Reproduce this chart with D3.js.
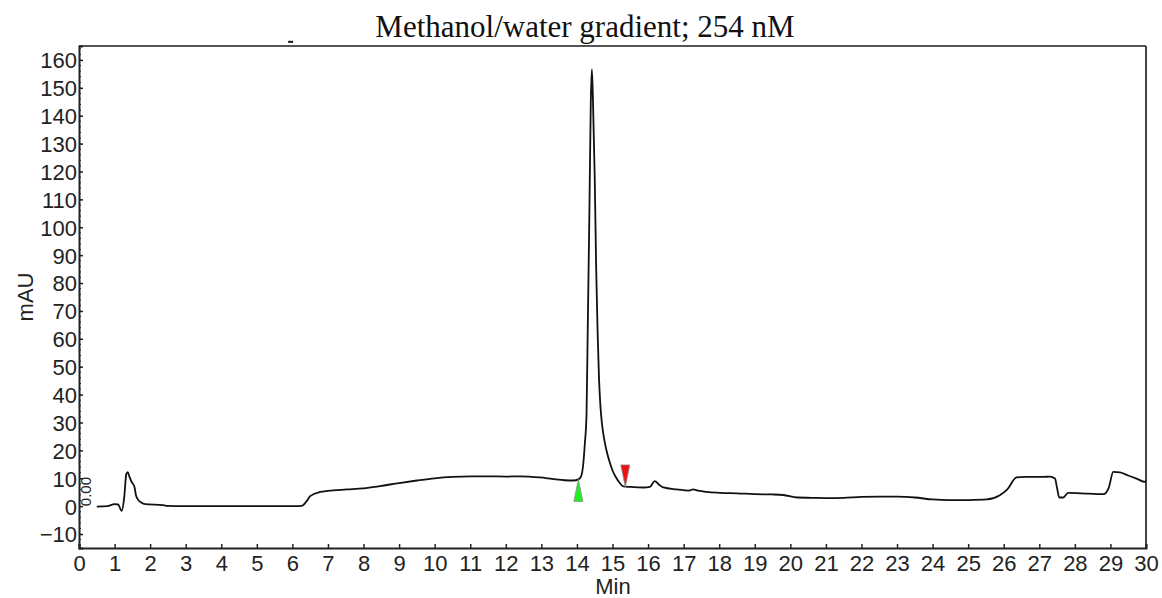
<!DOCTYPE html>
<html>
<head>
<meta charset="utf-8">
<script src="https://cdn.jsdelivr.net/npm/d3@7"></script>
<style>
  html, body { margin: 0; padding: 0; background: #fff; }
  svg { display: block; }
</style>
</head>
<body>
<svg id="chart" width="1162" height="598"></svg>
<script>
// ---- Data ----
const title = "Methanol/water gradient; 254 nM";
const xLabel = "Min";
const yLabel = "mAU";
const xTicks = d3.range(0, 31, 1);
const yTicks = d3.range(-10, 161, 10);

// retention time (min)
const time = [
  0.50, 0.80, 1.00, 1.10, 1.20, 1.27, 1.33, 1.37, 1.42, 1.48, 1.56, 1.60, 1.65, 1.75, 1.86,
  2.36, 2.45, 3.0, 4.0, 5.0, 6.0, 6.26, 6.40, 6.50, 6.78, 7.0, 7.53, 8.0, 8.46,
  9.0, 9.5, 10.0, 10.5, 11.0, 11.5, 12.0, 12.4, 12.96, 13.3, 13.66, 13.9, 14.04,
  14.12, 14.18, 14.22, 14.27, 14.30, 14.35, 14.39, 14.42, 14.45, 14.50, 14.54, 14.58, 14.62,
  14.66, 14.70, 14.76, 14.84, 14.92, 15.00, 15.10, 15.20, 15.30, 15.50, 15.87, 16.05, 16.19,
  16.30, 16.43, 16.80, 17.15, 17.27,
  17.40, 18.02, 18.5, 19.0, 19.5, 19.8, 20.2, 20.6, 21.0, 21.5, 22.0, 22.5, 23.0, 23.5,
  24.0, 24.49, 25.0, 25.52, 25.89, 26.10, 26.36, 26.60, 27.11, 27.30, 27.44, 27.50,
  27.56, 27.67, 27.81, 28.2, 28.8, 28.95, 29.08, 29.27, 29.5, 29.75, 29.97, 30.0
];
// absorbance (mAU)
const absorbance = [
  -0.2, 0.0, 0.7, 0.6, -1.7, 3.0, 11.5, 12.2, 10.5, 8.7, 6.9, 4.0, 2.5, 1.3, 0.7,
  0.4, 0.1, 0.0, 0.0, 0.0, 0.0, 0.1, 1.8, 3.6, 5.1, 5.5, 6.0, 6.4, 7.2,
  8.3, 9.2, 10.0, 10.5, 10.7, 10.7, 10.6, 10.7, 10.3, 9.8, 9.3, 9.2, 9.6,
  10.8, 15.4, 22.0, 33.0, 60.0, 105.0, 145.0, 156.6, 146.0, 118.0, 86.0, 63.0, 46.0,
  36.0, 30.0, 24.5, 19.5, 15.8, 12.8, 10.3, 8.4, 7.1, 6.9, 6.7, 6.9, 9.0,
  7.8, 6.7, 6.0, 5.6, 6.0,
  5.6, 4.8, 4.6, 4.3, 4.2, 4.0, 3.1, 3.0, 2.9, 3.0, 3.3, 3.4, 3.4, 3.1,
  2.4, 2.15, 2.2, 2.4, 3.9, 6.0, 10.3, 10.5, 10.5, 10.6, 9.9, 6.5,
  3.1, 3.1, 4.8, 4.6, 4.3, 6.5, 12.3, 12.1, 11.0, 9.8, 8.7, 9.2
];

// peak integration markers
const peakStart = [14.04];
const peakEnd = [15.36];
const baselineAt = [9.6, 6.9];

// ---- Layout ----
const svg = d3.select("#chart");
const margin = { left: 79, right: 16, top: 46, bottom: 50 };
const W = 1162, H = 598;
const x = d3.scaleLinear().domain([0, 30]).range([margin.left, W - margin.right]);
const y = d3.scaleLinear().domain([-15, 165]).range([H - margin.bottom, margin.top]);

const fontSans = "'Liberation Sans', Arial, Helvetica, sans-serif";

// frame (top and right)
svg.append("line").attr("x1", x(0)).attr("x2", x(30)).attr("y1", y(165)).attr("y2", y(165))
  .attr("stroke", "#555").attr("stroke-width", 2);
svg.append("line").attr("x1", x(30)).attr("x2", x(30)).attr("y1", y(165)).attr("y2", y(-15))
  .attr("stroke", "#444").attr("stroke-width", 2);
// small stray mark above the top border
svg.append("line").attr("x1", x(5.88)).attr("x2", x(6.02)).attr("y1", y(166.5)).attr("y2", y(166.5))
  .attr("stroke", "#111").attr("stroke-width", 2);

// minor y ticks (every 2 mAU)
svg.append("g").selectAll("line").data(d3.range(-14, 165, 2)).join("line")
  .attr("x1", x(0)).attr("x2", x(0) + 2)
  .attr("y1", d => y(d)).attr("y2", d => y(d))
  .attr("stroke", "#222").attr("stroke-width", 1);

// y axis
const yAxis = d3.axisLeft(y).tickValues(yTicks).tickSize(-4).tickPadding(2).tickFormat(d3.format("d"));
const gy = svg.append("g").attr("transform", `translate(${x(0)},0)`).call(yAxis);
gy.select(".domain").attr("stroke", "#222").attr("stroke-width", 2);
gy.selectAll(".tick line").attr("stroke", "#222").attr("stroke-width", 1.5);
gy.selectAll(".tick text").attr("font-family", fontSans).attr("font-size", 22).attr("fill", "#222")
  .attr("dy", "0.36em");

// x axis
const xAxis = d3.axisBottom(x).tickValues(xTicks).tickSize(-4).tickPadding(7).tickFormat(d3.format("d"));
const gx = svg.append("g").attr("transform", `translate(0,${y(-15)})`).call(xAxis);
gx.select(".domain").attr("stroke", "#222").attr("stroke-width", 2);
gx.selectAll(".tick line").attr("stroke", "#222").attr("stroke-width", 1.5);
gx.selectAll(".tick text").attr("font-family", fontSans).attr("font-size", 22).attr("fill", "#222");

// axis titles
svg.append("text").attr("x", 613).attr("y", 594).attr("text-anchor", "middle")
  .attr("font-family", fontSans).attr("font-size", 22).attr("fill", "#222").text(xLabel);
svg.append("text").attr("transform", `translate(33,${y(75)}) rotate(-90)`).attr("text-anchor", "middle")
  .attr("font-family", fontSans).attr("font-size", 22).attr("fill", "#222").text(yLabel);

// chart title
svg.append("text").attr("x", 585).attr("y", 37).attr("text-anchor", "middle")
  .attr("font-family", "'Liberation Serif', 'Times New Roman', serif").attr("font-size", 31)
  .attr("fill", "#111").text(title);

// "0.00" baseline label
svg.append("text").attr("transform", `translate(91,${y(0)}) rotate(-90)`)
  .attr("font-family", fontSans).attr("font-size", 15).attr("fill", "#222")
  .attr("text-anchor", "start").text("0.00");

// trace
const pts = time.map((t, i) => [t, absorbance[i]]);
const line = d3.line().x(d => x(d[0])).y(d => y(d[1])).curve(d3.curveMonotoneX);
svg.append("path").attr("d", line(pts)).attr("fill", "none")
  .attr("stroke", "#111").attr("stroke-width", 1.8).attr("stroke-linejoin", "round");

// peak markers
const tw = 4.5, th = 22;
peakStart.forEach((t, i) => {
  const px = x(t), py = y(baselineAt[0]);
  svg.append("path")
    .attr("d", `M${px},${py} L${px - tw},${py + th} L${px + tw},${py + th} Z`)
    .attr("fill", "#22ee22").attr("stroke", "#8a8a8a").attr("stroke-width", 0.8);
});
peakEnd.forEach((t, i) => {
  const px = x(t), py = y(baselineAt[1]);
  svg.append("path")
    .attr("d", `M${px},${py} L${px - tw},${py - th} L${px + tw},${py - th} Z`)
    .attr("fill", "#ee1111").attr("stroke", "#8a8a8a").attr("stroke-width", 0.8);
});
</script>
</body>
</html>
